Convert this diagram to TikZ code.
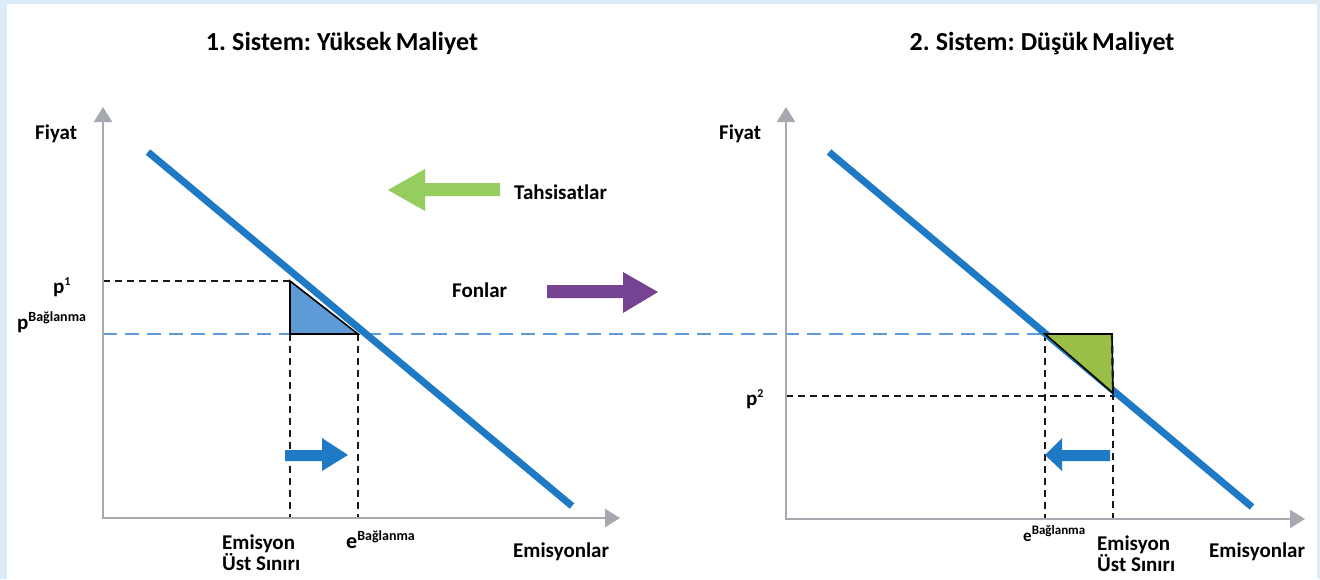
\documentclass[tikz,border=0pt]{standalone}
\usepackage{fontspec}
\setmainfont{Carlito}
\usetikzlibrary{arrows.meta}

\definecolor{framebg}{RGB}{221,235,247}
\definecolor{axisgrey}{RGB}{166,170,176}
\definecolor{curveblue}{RGB}{30,122,196}
\definecolor{lightblue}{RGB}{94,155,214}
\definecolor{olivegreen}{RGB}{155,190,70}
\definecolor{arrowgreen}{RGB}{150,205,95}
\definecolor{arrowpurple}{RGB}{117,67,145}

% letter with a raised, smaller exponent: size, letter, raise, exponent size, exponent
\newcommand\supword[5]{{\fontsize{#1}{#1}\selectfont #2}\raisebox{#3}{\fontsize{#4}{#4}\selectfont #5}}
% heading set with tight word spacing
\newcommand\tighthead[1]{{\spaceskip=0.16em\relax #1}}

\begin{document}
\begin{tikzpicture}[x=1pt,y=-1pt,
  lbl/.style={font=\bfseries\fontsize{21}{21}\selectfont, inner sep=0pt, anchor=base west},
  titlelbl/.style={font=\bfseries\fontsize{26}{26}\selectfont, inner sep=0pt, anchor=base},
  axisline/.style={draw=axisgrey, line width=2.5pt, -{Triangle[length=15pt,width=18pt]}},
  demand/.style={draw=curveblue, line width=7pt},
  guideblack/.style={draw=black!90, line width=2.2pt, dash pattern=on 7pt off 5pt},
  guideblue/.style={draw=lightblue, line width=2pt, dash pattern=on 14pt off 8pt},
  wedge/.style={draw=black, line width=1.6pt, line join=miter},
]
\useasboundingbox (0,0) rectangle (1320,579);
\fill[framebg] (0,0) rectangle (1320,579);
\fill[white] (7,4) rectangle (1317,579);

% ---------- key points ----------
\coordinate (O1) at (103,518);  \coordinate (Y1) at (103,107);  \coordinate (X1) at (620,518);
\coordinate (O2) at (786,519);  \coordinate (Y2) at (786,107);  \coordinate (X2) at (1305,519);
\coordinate (A1) at (148,152);  \coordinate (B1) at (572,506);
\coordinate (A2) at (829,152);  \coordinate (B2) at (1252,507);

\coordinate (Lp1) at (103,281); \coordinate (Lpb) at (103,334);
\coordinate (T1a) at (290,281); \coordinate (T1b) at (290,334); \coordinate (T1c) at (358,334);
\coordinate (E1a) at (290,518); \coordinate (E1b) at (358,518);

\coordinate (T2a) at (1045,334); \coordinate (T2b) at (1112,334); \coordinate (T2c) at (1113,393);
\coordinate (Lp2) at (786,396); \coordinate (P2e) at (1115,396);
\coordinate (E2a) at (1045,519); \coordinate (E2b) at (1113,519);

% ---------- guide lines ----------
\draw[guideblue] (Lpb) -- (T2a);
\draw[guideblack] (Lp1) -- (T1a);
\draw[guideblack] (T1b) -- (E1a);
\draw[guideblack] (T1c) -- (E1b);
\draw[guideblack] (Lp2) -- (P2e);
\draw[guideblack] (T2a) -- (E2a);
\draw[guideblack] (T2c) -- (E2b);

% ---------- axes ----------
\draw[axisline] (O1) -- (Y1);
\draw[axisline] ([xshift=-1.25pt]O1) -- (X1);
\draw[axisline] (O2) -- (Y2);
\draw[axisline] ([xshift=-1.25pt]O2) -- (X2);

% ---------- wedges ----------
\filldraw[wedge, fill=lightblue] (T1a) -- (T1b) -- (T1c) -- cycle;

% ---------- demand lines ----------
\draw[demand] (A1) -- (B1);
\draw[demand] (A2) -- (B2);

\filldraw[wedge, fill=olivegreen] (T2a) -- (T2b) -- (T2c) -- cycle;
\draw[guideblack] (T2b) -- (T2c);

% ---------- block arrows ----------
\fill[arrowgreen] (500,183) -- (425,183) -- (425,169) -- (388,190) -- (425,211) -- (425,196) -- (500,196) -- cycle;
\fill[arrowpurple] (547,285) -- (623,285) -- (623,272) -- (658,292) -- (623,313) -- (623,298) -- (547,298) -- cycle;
\fill[curveblue] (285,450) -- (322,450) -- (322,438) -- (348,455) -- (322,471) -- (322,461) -- (285,461) -- cycle;
\fill[curveblue] (1110,450) -- (1062,450) -- (1062,438) -- (1045,455) -- (1062,471) -- (1062,461) -- (1110,461) -- cycle;

% ---------- texts ----------
\node[titlelbl] (t1) at (342,50) {\tighthead{1. Sistem: Yüksek Maliyet}};
\node[titlelbl] (t2) at (1042,50) {\tighthead{2. Sistem: Düşük Maliyet}};

\node[lbl] (f1) at (35,139) {Fiyat};
\node[lbl] (f2) at (719,139) {Fiyat};
\node[lbl] (tah) at (514,199) {Tahsisatlar};
\node[lbl] (fon) at (452,297) {Fonlar};

\node[lbl] (p1) at (53,293) {\supword{21}{p}{8pt}{12}{1}};
\node[lbl] (pb) at (17,329) {\supword{21}{p}{8pt}{14}{Bağlanma}};
\node[lbl] (p2) at (746,405) {\supword{21}{p}{8pt}{12}{2}};

\node[lbl, anchor=north west, align=left] (cap1) at (222,535) {Emisyon\\Üst Sınırı};
\node[lbl] (eb1) at (346,548) {\supword{22}{e}{8pt}{14}{Bağlanma}};
\node[lbl] (em1) at (513,557) {Emisyonlar};

\node[lbl] (eb2) at (1023,541) {\supword{17}{e}{7pt}{13}{Bağlanma}};
\node[lbl, anchor=north west, align=left] (cap2) at (1097,536) {Emisyon\\Üst Sınırı};
\node[lbl] (em2) at (1209,557) {Emisyonlar};
\end{tikzpicture}
\end{document}
